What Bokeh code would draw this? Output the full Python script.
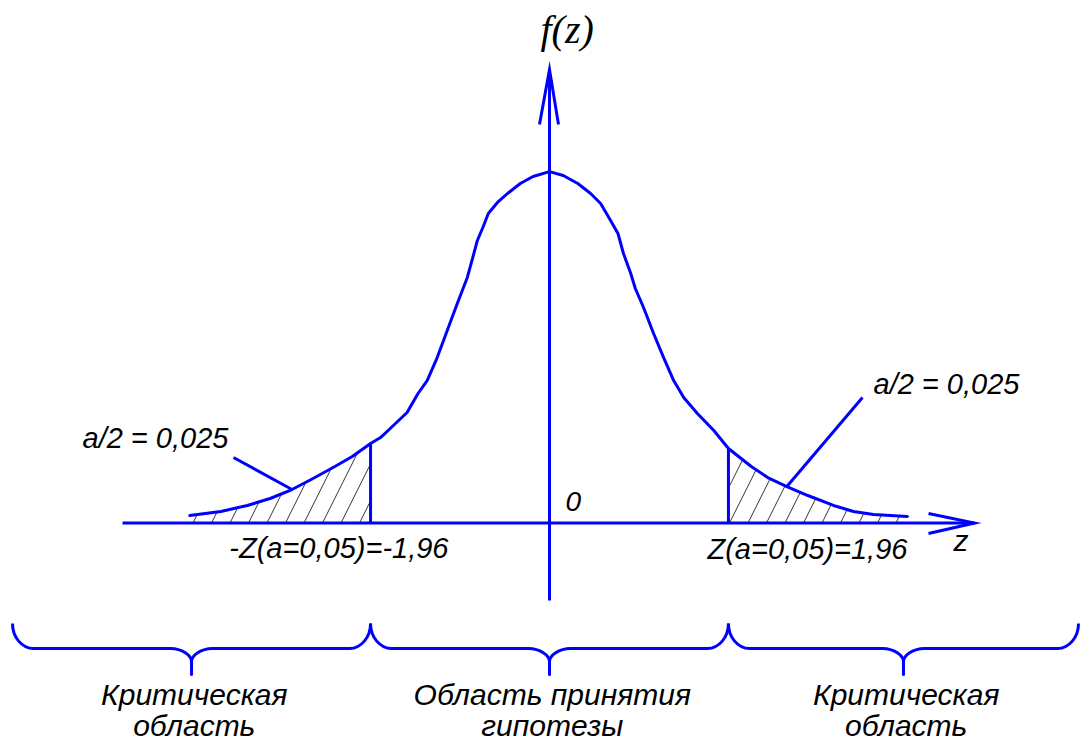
from bokeh.plotting import figure
from bokeh.models import Range1d
from bokeh.core.properties import value
from bokeh.embed import file_html
from bokeh.resources import INLINE

# --- data -------------------------------------------------------------
alpha = 0.05
z_crit = 1.96

# density curve f(z), points along the drawn bell shape
curve_z = [-3.94, -3.60, -3.31, -3.06, -2.82, -2.59, -2.37, -2.16, -1.96, -1.85,
           -1.71, -1.56, -1.44, -1.34, -1.23, -1.12, -1.01, -0.90, -0.84, -0.79,
           -0.73, -0.67, -0.57, -0.46, -0.32, -0.18, 0.0, 0.15, 0.31, 0.45,
           0.56, 0.65, 0.75, 0.81, 0.89, 0.94, 1.03, 1.14, 1.25, 1.36,
           1.47, 1.62, 1.80, 1.96, 2.21, 2.39, 2.60, 2.83, 3.11, 3.33,
           3.55, 3.92]
curve_f = [0.0085, 0.0131, 0.0199, 0.0278, 0.0380, 0.0505, 0.0630, 0.0755, 0.0902, 0.0970,
           0.1107, 0.1254, 0.1470, 0.1617, 0.1878, 0.2185, 0.2491, 0.2787, 0.3014, 0.3207,
           0.3354, 0.3513, 0.3638, 0.3740, 0.3853, 0.3933, 0.3989, 0.3944, 0.3853, 0.3740,
           0.3627, 0.3468, 0.3286, 0.3059, 0.2832, 0.2662, 0.2446, 0.2151, 0.1878, 0.1617,
           0.1424, 0.1243, 0.1050, 0.0846, 0.0641, 0.0516, 0.0414, 0.0312, 0.0199, 0.0131,
           0.0096, 0.0074]

region_labels = [["Критическая", "область"],
                 ["Область принятия", "гипотезы"],
                 ["Критическая", "область"]]


def fmt(v):
    return f"{v:g}".replace(".", ",")


tail_label = f"a/2 = {fmt(alpha / 2)}"
left_crit_label = f"-Z(a={fmt(alpha)})=-{fmt(z_crit)}"
right_crit_label = f"Z(a={fmt(alpha)})={fmt(z_crit)}"

# --- canvas / scales ----------------------------------------------------
W, H = 1083, 741
X0, SX = 549.0, 91.3      # screen x of z = 0, pixels per unit z
Y0, SY = 522.5, 881.0     # screen y of f = 0, pixels per unit f


def zx(px):
    return (px - X0) / SX


def fy(py):
    return (Y0 - py) / SY


p = figure(width=W, height=H, output_backend="svg", toolbar_location=None,
           x_range=Range1d(zx(0), zx(W)), y_range=Range1d(fy(H), fy(0)),
           min_border=0, outline_line_color=None)
p.axis.visible = False
p.grid.visible = False
p.background_fill_color = "white"
p.border_fill_color = "white"

BLUE = "#0000ff"
LW = 3
SANS = value("Liberation Sans")

# --- hatched tails ------------------------------------------------------
left_z = [z for z in curve_z if z <= -z_crit]
left_f = [f for z, f in zip(curve_z, curve_f) if z <= -z_crit]
right_z = [z for z in curve_z if z >= z_crit]
right_f = [f for z, f in zip(curve_z, curve_f) if z >= z_crit]
for tz, tf in ((left_z, left_f), (right_z, right_f)):
    p.varea(x=tz, y1=[0] * len(tz), y2=tf, fill_color=None,
            hatch_pattern="/", hatch_color="black", hatch_weight=0.8,
            hatch_scale=37, hatch_alpha=1.0)

# critical value verticals
f_at = dict(zip(curve_z, curve_f))
p.segment(x0=[-z_crit, z_crit], y0=[0, 0], x1=[-z_crit, z_crit],
          y1=[f_at[-z_crit], f_at[z_crit]], line_color=BLUE, line_width=LW)

# --- axes with open arrow heads ------------------------------------------
p.line([zx(122), zx(974)], [0, 0], line_color=BLUE, line_width=LW)
p.line([zx(928), zx(974), zx(928)], [fy(513), 0, fy(533)],
       line_color=BLUE, line_width=LW, line_join="miter")
p.line([0, 0], [fy(600), fy(69)], line_color=BLUE, line_width=LW)
p.line([zx(539), 0, zx(558)], [fy(124), fy(69), fy(124)],
       line_color=BLUE, line_width=LW, line_join="miter")

# --- density curve ----------------------------------------------------
p.line(curve_z, curve_f, line_color=BLUE, line_width=LW, line_join="round",
       line_cap="round")

# leader lines for the tail labels
p.segment(x0=[zx(233), zx(862)], y0=[fy(457), fy(397)],
          x1=[-2.82, 2.60], y1=[f_at[-2.82], f_at[2.60]],
          line_color=BLUE, line_width=LW)

# --- braces under the regions ------------------------------------------
TOP, MID, TIP_C, TIP = 623, 648, 661, 674
R = 21
K = 0.55
edges = [zx(12), -z_crit, z_crit, zx(1078)]
bz = dict(x0=[], y0=[], x1=[], y1=[], cx0=[], cy0=[], cx1=[], cy1=[])
sg = dict(x0=[], y0=[], x1=[], y1=[])


def add_bez(a, b, c0, c1):
    bz["x0"].append(a[0]); bz["y0"].append(a[1])
    bz["x1"].append(b[0]); bz["y1"].append(b[1])
    bz["cx0"].append(c0[0]); bz["cy0"].append(c0[1])
    bz["cx1"].append(c1[0]); bz["cy1"].append(c1[1])


def add_seg(a, b):
    sg["x0"].append(a[0]); sg["y0"].append(a[1])
    sg["x1"].append(b[0]); sg["y1"].append(b[1])


centers = []
for a, b in zip(edges[:-1], edges[1:]):
    xa, xb = a * SX + X0, b * SX + X0
    xc = (xa + xb) / 2
    centers.append(zx(xc))
    for s, xe in ((1, xa), (-1, xb)):
        add_bez((zx(xe), fy(TOP)), (zx(xe + s * R), fy(MID)),
                (zx(xe), fy(TOP + K * (MID - TOP))),
                (zx(xe + s * R * (1 - K)), fy(MID)))
        add_seg((zx(xe + s * R), fy(MID)), (zx(xc - s * R), fy(MID)))
        add_bez((zx(xc - s * R), fy(MID)), (zx(xc), fy(TIP_C)),
                (zx(xc - s * R * (1 - K)), fy(MID)),
                (zx(xc), fy(MID + K * (TIP_C - MID))))
    add_seg((zx(xc), fy(TIP_C)), (zx(xc), fy(TIP)))

p.bezier(**bz, line_color=BLUE, line_width=LW)
p.segment(**sg, line_color=BLUE, line_width=LW, line_cap="round")

# --- texts ------------------------------------------------------------
txt = dict(text_font=SANS, text_font_style="italic", text_color="black",
           text_baseline="alphabetic")
DY = 10  # baseline correction

for cx, (l1, l2) in zip(centers, region_labels):
    p.text(x=[cx + 0.03, cx + 0.03], y=[fy(704 - DY), fy(735 - DY)], text=[l1, l2],
           text_align="center", text_font_size="30px", **txt)

p.text(x=[zx(82), zx(873)], y=[fy(447 - DY), fy(393 - DY)], text=[tail_label] * 2,
       text_align="left", text_font_size="29px", **txt)
p.text(x=[zx(448)], y=[fy(557 - DY)], text=[left_crit_label],
       text_align="right", text_font_size="29px", **txt)
p.text(x=[zx(707)], y=[fy(558 - DY)], text=[right_crit_label],
       text_align="left", text_font_size="29px", **txt)
p.text(x=[zx(953)], y=[fy(550 - DY)], text=["z"],
       text_align="left", text_font_size="30px", **txt)
p.text(x=[zx(565)], y=[fy(511 - DY)], text=["0"],
       text_align="left", text_font_size="28px", **txt)
p.text(x=[zx(540)], y=[fy(43 - 14)], text=["f(z)"], text_align="left",
       text_font=value("Liberation Serif"), text_font_style="italic",
       text_font_size="40px", text_color="black", text_baseline="alphabetic")

open("out.html", "w").write(file_html(p, INLINE))
